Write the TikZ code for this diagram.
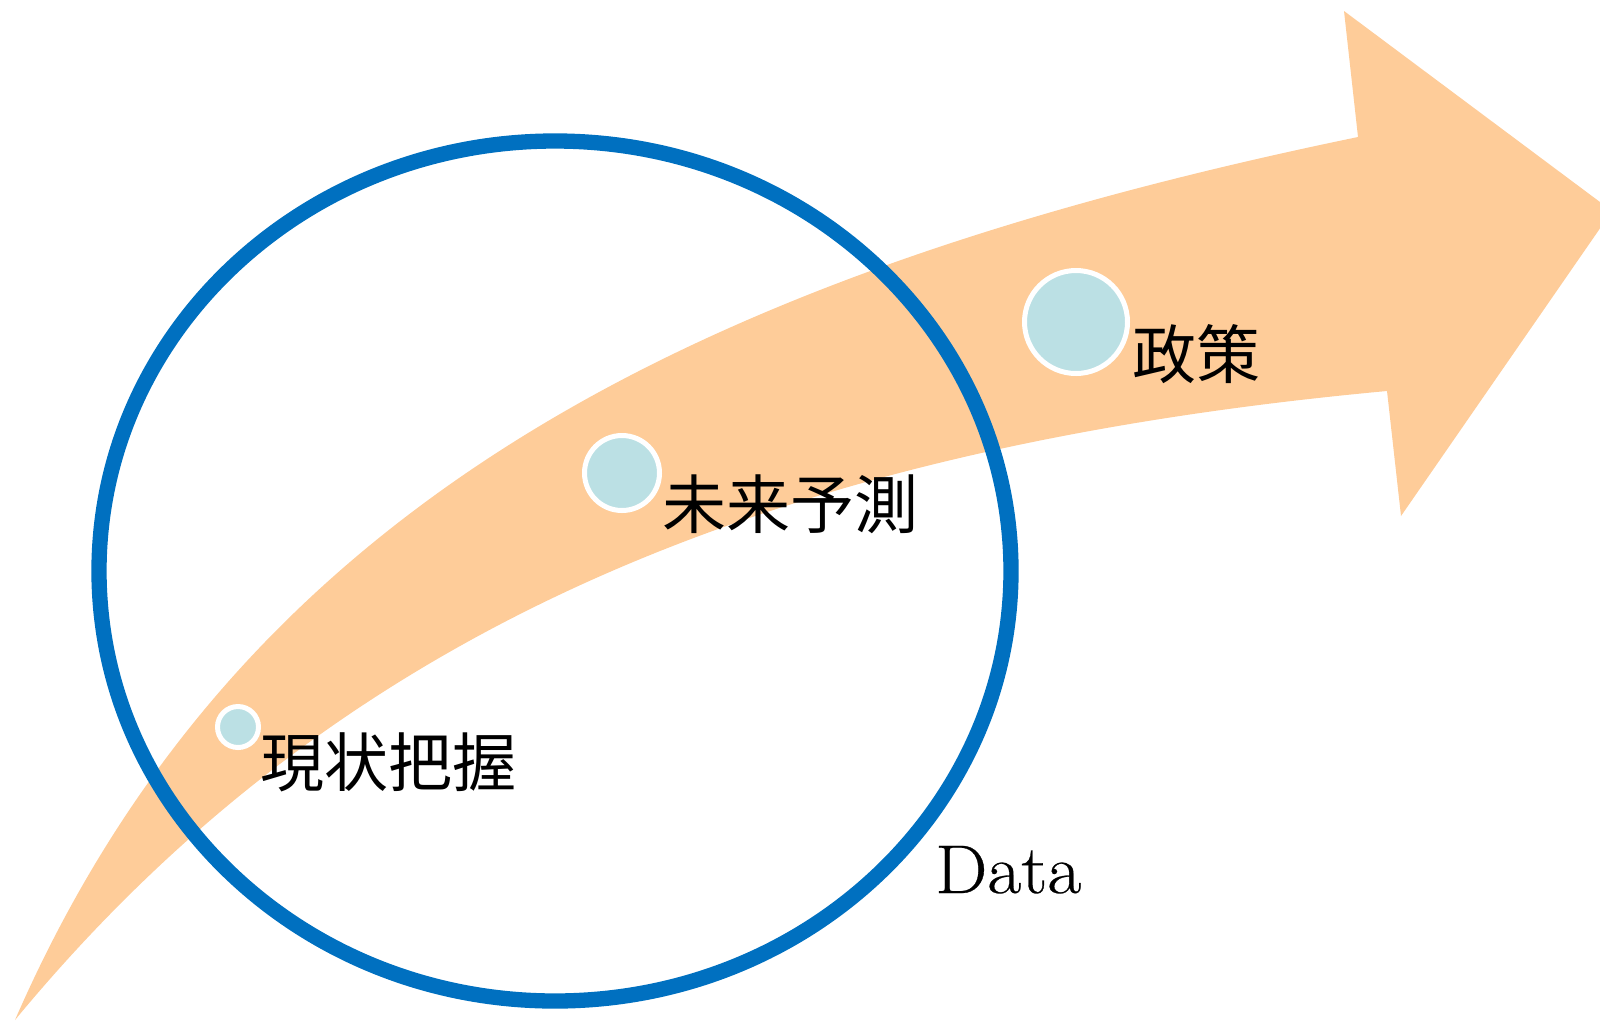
\documentclass[tikz,border=0pt]{standalone}
\usepackage{fontspec}
\newfontfamily\jpfont{Noto Sans CJK JP}
\newfontfamily\datafont[FakeStretch=1.07,FakeBold=0.4]{Latin Modern Roman}
\definecolor{arroworange}{RGB}{254,204,153}
\definecolor{ringblue}{RGB}{0,112,192}
\definecolor{dotteal}{RGB}{187,224,228}
\begin{document}
\begin{tikzpicture}[x=1pt,y=-1pt,
  tealdot/.style={circle, fill=dotteal, draw=white, line width=5pt, inner sep=0pt, minimum size=#1},
  jplabel/.style={font=\jpfont\fontsize{64}{64}\selectfont, anchor=base west, inner sep=0pt},
  datalabel/.style={font=\datafont\fontsize{69}{69}\selectfont, anchor=base west, inner sep=0pt}
]
\useasboundingbox (0,0) rectangle (1600,1021);
\clip (0,0) rectangle (1600,1021);
% curved arrow
\fill[arroworange] (15,1020) .. controls (238,508) and (690,275) .. (1358,137)
  -- (1344,11) -- (1612,211) -- (1401,516) -- (1387,391)
  .. controls (760,449) and (333,635) .. (15,1020) -- cycle;
% data ellipse
\draw[ringblue, line width=15.3pt] (555,571) ellipse [x radius=456, y radius=430];
% dots
\node[tealdot=41pt] (d1) at (238,727) {};
\node[tealdot=75pt] (d2) at (622,473) {};
\node[tealdot=103pt] (d3) at (1076,322) {};
% labels
\node[jplabel] (l1) at (260,786) {現状把握};
\node[jplabel] (l2) at (662,528) {未来予測};
\node[jplabel] (l3) at (1132,378) {政策};
\node[datalabel] (data) at (935,893) {Data};
\end{tikzpicture}
\end{document}
